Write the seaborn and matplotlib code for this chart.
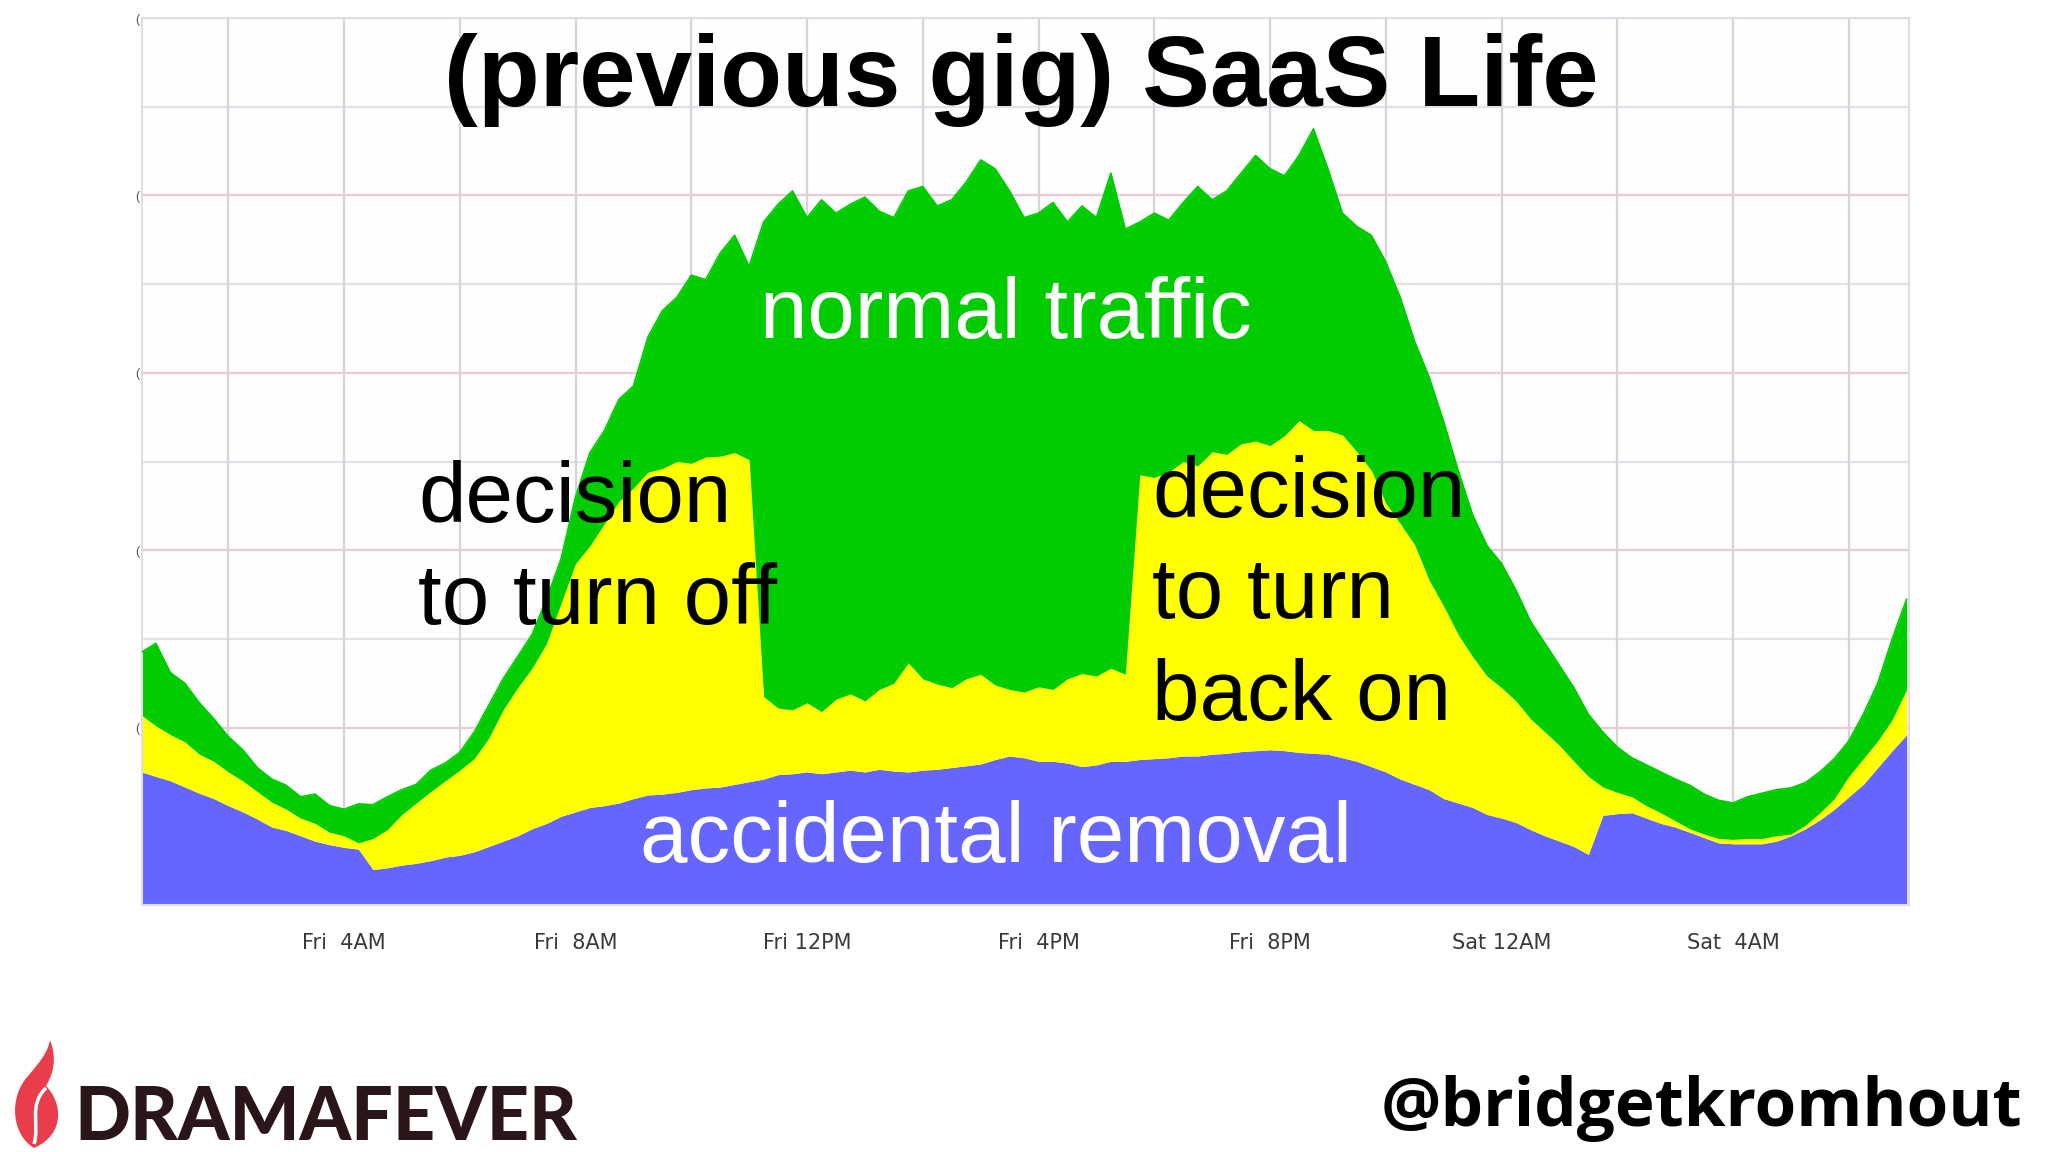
import numpy as np
import pandas as pd
import matplotlib
matplotlib.use("Agg")
import matplotlib.pyplot as plt
import seaborn as sns
from matplotlib.path import Path
from matplotlib.patches import PathPatch

# hours since Fri 00:00, one sample every 15 min
hours = np.arange(0.5, 31.01, 0.25)

# top edge of each stacked band (arbitrary units, 0..10)
purple_top = [
    1.50, 1.45, 1.40, 1.33, 1.26, 1.20, 1.12, 1.05,
    0.97, 0.88, 0.84, 0.78, 0.72, 0.68, 0.65, 0.63,
    0.40, 0.42, 0.45, 0.47, 0.50, 0.54, 0.56, 0.60,
    0.66, 0.72, 0.78, 0.86, 0.92, 1.00, 1.05, 1.10,
    1.12, 1.15, 1.20, 1.24, 1.25, 1.27, 1.30, 1.32,
    1.33, 1.36, 1.39, 1.42, 1.47, 1.48, 1.50, 1.48,
    1.50, 1.52, 1.50, 1.53, 1.51, 1.50, 1.52, 1.53,
    1.55, 1.57, 1.59, 1.64, 1.68, 1.66, 1.62, 1.62,
    1.60, 1.56, 1.58, 1.62, 1.62, 1.64, 1.65, 1.66,
    1.68, 1.68, 1.70, 1.71, 1.73, 1.74, 1.75, 1.74,
    1.72, 1.71, 1.70, 1.66, 1.62, 1.56, 1.50, 1.42,
    1.36, 1.30, 1.20, 1.15, 1.10, 1.02, 0.98, 0.93,
    0.85, 0.78, 0.72, 0.66, 0.57, 1.01, 1.03, 1.04,
    0.98, 0.92, 0.88, 0.82, 0.76, 0.70, 0.69, 0.69,
    0.69, 0.72, 0.78, 0.86, 0.96, 1.08, 1.22, 1.36,
    1.55, 1.74, 1.92,
]
yellow_top = [
    2.14, 2.02, 1.92, 1.84, 1.70, 1.62, 1.50, 1.40,
    1.28, 1.16, 1.08, 0.98, 0.92, 0.82, 0.78, 0.70,
    0.75, 0.85, 1.02, 1.15, 1.28, 1.40, 1.52, 1.65,
    1.88, 2.20, 2.45, 2.67, 2.95, 3.40, 3.85, 4.05,
    4.30, 4.55, 4.70, 4.88, 4.92, 5.00, 4.98, 5.05,
    5.06, 5.10, 5.02, 2.35, 2.22, 2.20, 2.28, 2.18,
    2.32, 2.38, 2.30, 2.43, 2.50, 2.73, 2.55, 2.49,
    2.45, 2.55, 2.60, 2.48, 2.43, 2.40, 2.46, 2.43,
    2.55, 2.61, 2.58, 2.67, 2.60, 4.85, 4.82, 4.88,
    5.00, 4.95, 5.11, 5.08, 5.20, 5.23, 5.18, 5.29,
    5.46, 5.35, 5.35, 5.30, 5.11, 4.90, 4.53, 4.30,
    4.06, 3.66, 3.37, 3.05, 2.80, 2.58, 2.45, 2.30,
    2.10, 1.95, 1.80, 1.62, 1.45, 1.33, 1.27, 1.22,
    1.12, 1.04, 0.95, 0.86, 0.80, 0.75, 0.74, 0.75,
    0.75, 0.78, 0.80, 0.90, 1.04, 1.20, 1.45, 1.65,
    1.85, 2.09, 2.43,
]
green_top = [
    2.85, 2.95, 2.62, 2.50, 2.28, 2.10, 1.90, 1.75,
    1.55, 1.42, 1.35, 1.22, 1.25, 1.12, 1.08, 1.14,
    1.13, 1.22, 1.30, 1.36, 1.52, 1.60, 1.72, 1.95,
    2.25, 2.55, 2.80, 3.05, 3.45, 3.90, 4.60, 5.10,
    5.35, 5.70, 5.85, 6.40, 6.70, 6.85, 7.10, 7.05,
    7.35, 7.55, 7.20, 7.70, 7.90, 8.05, 7.75, 7.95,
    7.80, 7.90, 7.98, 7.82, 7.75, 8.05, 8.10, 7.88,
    7.95, 8.15, 8.40, 8.30, 8.05, 7.75, 7.80, 7.92,
    7.70, 7.88, 7.75, 8.25, 7.62, 7.70, 7.80, 7.72,
    7.92, 8.10, 7.95, 8.05, 8.25, 8.45, 8.30, 8.22,
    8.45, 8.75, 8.30, 7.80, 7.65, 7.55, 7.25, 6.85,
    6.35, 5.95, 5.45, 4.90, 4.40, 4.05, 3.85, 3.55,
    3.20, 2.95, 2.70, 2.45, 2.15, 1.95, 1.78, 1.66,
    1.58, 1.50, 1.42, 1.35, 1.25, 1.18, 1.15, 1.22,
    1.26, 1.30, 1.32, 1.38, 1.50, 1.65, 1.85, 2.15,
    2.50, 3.00, 3.45,
]

tick_hours = [4, 8, 12, 16, 20, 24, 28]
tick_labels = ["Fri  4AM", "Fri  8AM", "Fri 12PM", "Fri  4PM",
               "Fri  8PM", "Sat 12AM", "Sat  4AM"]

df = pd.DataFrame({"hour": hours, "purple": purple_top,
                   "yellow": yellow_top, "green": green_top})

sns.set_theme(style="white")
plt.rcParams["font.family"] = ["Liberation Sans", "DejaVu Sans"]

W, H = 2048, 1152
fig = plt.figure(figsize=(W / 100, H / 100), dpi=100)
fig.patch.set_facecolor("white")


def fx(x):
    return x / W


def fy(y):
    return 1 - y / H


ax = fig.add_axes([fx(142), fy(905), (1909 - 142) / W, (905 - 18) / H])
ax.set_facecolor("#fefefe")

# grid like the rrd graph: pink on even levels, grey in between
for lvl in range(0, 11):
    ax.axhline(lvl, color="#e8cbd6" if lvl % 2 == 0 else "#e3e0e8",
               lw=1.6, zorder=0)
for h in range(2, 31, 2):
    ax.axvline(h, color="#d9d1de", lw=1.6, zorder=0)

ax.fill_between(df["hour"], 0, df["purple"], color="#6666ff", lw=0, zorder=2)
ax.fill_between(df["hour"], df["purple"], df["yellow"], color="#ffff00", lw=0, zorder=2)
ax.fill_between(df["hour"], df["yellow"], df["green"], color="#00cc00", lw=0, zorder=2)
sns.lineplot(data=df, x="hour", y="green", color="#00cc00", lw=1.2, ax=ax, zorder=3)

ax.set_xlim(0.51, 31.04)
ax.set_ylim(0, 10)
ax.set_xlabel("")
ax.set_ylabel("")
ax.set_xticks(tick_hours)
ax.set_xticklabels(tick_labels, fontsize=15, color="#3a3a3a",
                   family=["DejaVu Sans"])
ax.set_yticks([2, 4, 6, 8, 10])
ax.set_yticklabels(["("] * 5, fontsize=9, color="#555555")
ax.tick_params(axis="both", length=0)
ax.tick_params(axis="x", pad=20)
ax.tick_params(axis="y", pad=2)
for side in ["top", "right", "left", "bottom"]:
    ax.spines[side].set_color("#e2dce8")
    ax.spines[side].set_linewidth(1.5)

# slide text
fig.text(fx(1021), fy(80), "(previous gig) SaaS Life", fontsize=73,
         fontweight="bold", ha="center", va="center", color="black")
fs = 61.5
fig.text(fx(1006), fy(338), "normal traffic", fontsize=fs, color="white",
         ha="center", va="baseline")
fig.text(fx(418), fy(522), "decision", fontsize=fs, color="black", va="baseline")
fig.text(fx(418), fy(624), "to turn off", fontsize=fs, color="black", va="baseline")
fig.text(fx(1152), fy(517), "decision", fontsize=fs, color="black", va="baseline")
fig.text(fx(1152), fy(618), "to turn", fontsize=fs, color="black", va="baseline")
fig.text(fx(1152), fy(720), "back on", fontsize=fs, color="black", va="baseline")
fig.text(fx(640), fy(862), "accidental removal", fontsize=fs, color="white",
         va="baseline")

# footer: logo and handle
fig.text(fx(74), fy(1140), "DRAMAFEVER", fontsize=53, fontweight="black",
         family=["Lato", "DejaVu Sans"], color="#2a1619", va="baseline")
fig.text(fx(2022), fy(1126), "@bridgetkromhout", fontsize=48.5, fontweight="bold",
         family=["Open Sans", "DejaVu Sans"], color="black", ha="right",
         va="baseline")

flame = [(34, 1148), (12, 1135), (8, 1098), (28, 1076),
         (40, 1062), (48, 1052), (50, 1040),
         (58, 1060), (52, 1076), (46, 1086),
         (62, 1102), (66, 1134), (34, 1148)]
codes = [Path.MOVETO] + [Path.CURVE4] * 12
verts = [(fx(x), fy(y)) for x, y in flame]
fig.patches.append(PathPatch(Path(verts, codes), facecolor="#ea3d4b",
                             edgecolor="none", transform=fig.transFigure))
swirl = [(46, 1088), (28, 1105), (40, 1126), (34, 1144)]
fig.patches.append(PathPatch(Path([(fx(x), fy(y)) for x, y in swirl],
                                  [Path.MOVETO] + [Path.CURVE4] * 3),
                             facecolor="none", edgecolor="white", lw=2.5,
                             transform=fig.transFigure))

fig.savefig("out.png", dpi=100, facecolor="white")
